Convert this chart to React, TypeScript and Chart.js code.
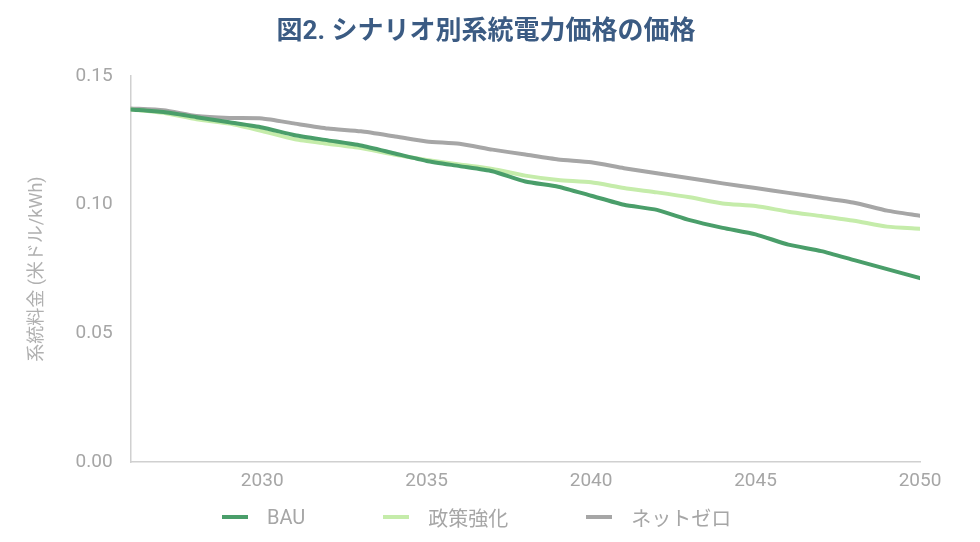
import React, { useEffect, useRef } from 'react';
import { Chart, registerables } from 'chart.js';

Chart.register(...registerables);

const years = [
  2026, 2027, 2028, 2029, 2030, 2031, 2032, 2033, 2034, 2035, 2036, 2037, 2038,
  2039, 2040, 2041, 2042, 2043, 2044, 2045, 2046, 2047, 2048, 2049, 2050,
];
const bau = [
  0.137, 0.136, 0.134, 0.132, 0.13, 0.127, 0.125, 0.123, 0.12, 0.117, 0.115, 0.113, 0.109,
  0.107, 0.1035, 0.1, 0.098, 0.094, 0.091, 0.0885, 0.0845, 0.082, 0.0785, 0.075, 0.0715,
];
const policy = [
  0.137, 0.1357, 0.1332, 0.1315, 0.1286, 0.1254, 0.1237, 0.122, 0.1195, 0.1174, 0.1156, 0.1139, 0.1113,
  0.1096, 0.1087, 0.1065, 0.1048, 0.1029, 0.1005, 0.0995, 0.0973, 0.0956, 0.0938, 0.0915, 0.0907,
];
const netZero = [
  0.1374, 0.1367, 0.1345, 0.1337, 0.1335, 0.1315, 0.1296, 0.1285, 0.1266, 0.1246, 0.1237, 0.1214, 0.1195,
  0.1176, 0.1165, 0.1142, 0.1122, 0.1103, 0.1083, 0.1065, 0.1046, 0.1027, 0.1008, 0.0977, 0.0957,
];
const xTicks = [2030, 2035, 2040, 2045, 2050];
const seriesNames = ['BAU', '政策強化', 'ネットゼロ'];
const seriesColors = ['#4a9e6a', '#c5ecaa', '#a6a6a6'];
const chartTitle = '図2. シナリオ別系統電力価格の価格';

const FONT = "Roboto, 'Noto Sans CJK JP', sans-serif";
const GRAY_TEXT = '#a6a6a6';

export default function App() {
  const canvasRef = useRef<HTMLCanvasElement>(null);

  useEffect(() => {
    const ctx = canvasRef.current?.getContext('2d');
    let chart: Chart;
    if (ctx) {
      const toPoints = (vals: number[]) => years.map((y, i) => ({ x: y, y: vals[i] }));
      const seriesData = [bau, policy, netZero];
      chart = new Chart(ctx, {
        type: 'line',
        data: {
          datasets: seriesData.map((vals, i) => ({
            label: seriesNames[i],
            data: toPoints(vals),
            borderColor: seriesColors[i],
            backgroundColor: seriesColors[i],
          })),
        },
        options: {
          animation: false,
          responsive: true,
          maintainAspectRatio: false,
          elements: {
            point: { radius: 0 },
            line: { borderWidth: 4, tension: 0.2, borderCapStyle: 'round' },
          },
          layout: { padding: { left: 27, right: 60, top: 76, bottom: 49 } },
          plugins: {
            title: { display: false },
            legend: { display: false },
            tooltip: { enabled: false },
          },
          scales: {
            x: {
              type: 'linear',
              min: 2026,
              max: 2050,
              afterBuildTicks: (axis) => {
                axis.ticks = xTicks.map((v) => ({ value: v }));
              },
              grid: { display: false },
              border: { color: '#d0d0d0', width: 1.5 },
              ticks: {
                color: GRAY_TEXT,
                font: { family: FONT, size: 19 },
                padding: 0,
                callback: (v) => String(v),
              },
            },
            y: {
              min: 0,
              max: 0.15,
              grid: { display: false },
              border: { color: '#d0d0d0', width: 1.5 },
              ticks: {
                stepSize: 0.05,
                color: GRAY_TEXT,
                font: { family: FONT, size: 19 },
                padding: 10,
                callback: (v) => Number(v).toFixed(2),
              },
              title: {
                display: true,
                text: '系統料金 (米ドル/kWh)',
                color: '#b0b0b0',
                font: { family: FONT, size: 18 },
                padding: { top: 0, bottom: 17 },
              },
            },
          },
        },
      });
    }
    return () => {
      chart?.destroy();
    };
  }, []);

  return (
    <div style={{ position: 'fixed', left: 0, top: 0, width: 980, height: 542, background: '#fff' }}>
      <canvas ref={canvasRef}></canvas>
      <div
        style={{
          position: 'absolute',
          left: 0,
          width: 972,
          top: 14,
          lineHeight: '32px',
          textAlign: 'center',
          fontFamily: FONT,
          fontSize: 26,
          fontWeight: 'bold',
          color: '#3b5b83',
        }}
      >
        {chartTitle}
      </div>
      <div
        style={{
          position: 'absolute',
          left: 222,
          top: 504,
          height: 26,
          display: 'flex',
          alignItems: 'center',
          gap: 78,
          fontFamily: FONT,
          fontSize: 20,
          color: GRAY_TEXT,
        }}
      >
        {seriesNames.map((name, i) => (
          <div key={name} style={{ display: 'flex', alignItems: 'center' }}>
            <span style={{ width: 26, height: 4, background: seriesColors[i], marginRight: 19 }} />
            <span>{name}</span>
          </div>
        ))}
      </div>
    </div>
  );
}
